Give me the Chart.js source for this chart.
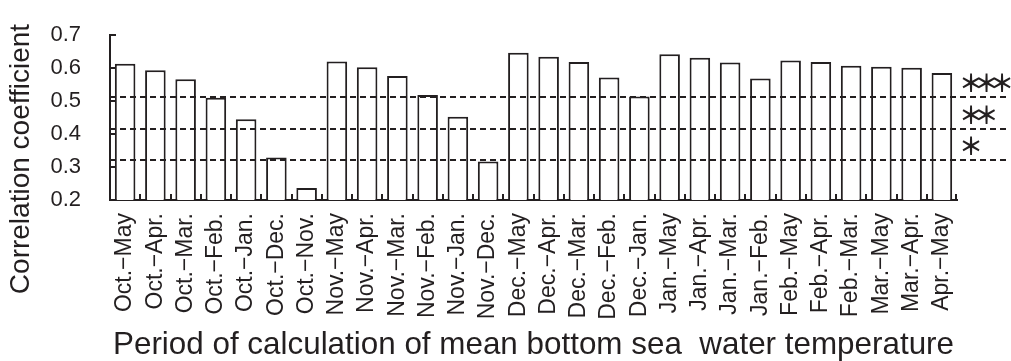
<!DOCTYPE html>
<html>
<head>
<meta charset="utf-8">
<script src="https://cdn.jsdelivr.net/npm/chart.js@4/dist/chart.umd.min.js"></script>
<style>
  html, body { margin: 0; padding: 0; background: #fff; }
</style>
</head>
<body>
<canvas id="chart" width="1011" height="361"></canvas>
<script>
// Averaging periods (x categories)
const periods = [
  'Oct.−May', 'Oct.−Apr.', 'Oct.−Mar.', 'Oct.−Feb.', 'Oct.−Jan.', 'Oct.−Dec.', 'Oct.−Nov.',
  'Nov.−May', 'Nov.−Apr.', 'Nov.−Mar.', 'Nov.−Feb.', 'Nov.−Jan.', 'Nov.−Dec.',
  'Dec.−May', 'Dec.−Apr.', 'Dec.−Mar.', 'Dec.−Feb.', 'Dec.−Jan.',
  'Jan.−May', 'Jan.−Apr.', 'Jan.−Mar.', 'Jan.−Feb.',
  'Feb.−May', 'Feb.−Apr.', 'Feb.−Mar.',
  'Mar.−May', 'Mar.−Apr.',
  'Apr.−May'
];

// Correlation coefficient per period
const correlations = [
  0.613, 0.593, 0.566, 0.510, 0.445, 0.329, 0.236,
  0.620, 0.602, 0.576, 0.518, 0.452, 0.317,
  0.646, 0.634, 0.618, 0.571, 0.514,
  0.642, 0.631, 0.617, 0.568,
  0.623, 0.618, 0.607,
  0.604, 0.601,
  0.585
];

// Significance thresholds and their marks
const thresholds = [0.511, 0.415, 0.320];
const significance = ['＊＊＊', '＊＊', '＊'];

const yTickValues = [0.2, 0.3, 0.4, 0.5, 0.6, 0.7];

const INK = '#231f20';
const FONT = "'Liberation Sans', Arial, sans-serif";

// ticks pointing into the plot, dashed significance lines, stars, y title
const decorations = {
  id: 'decorations',
  afterDatasetsDraw(chart) {
    const { ctx, chartArea, scales: { x, y } } = chart;
    ctx.save();
    ctx.strokeStyle = INK;
    ctx.lineWidth = 2;

    ctx.beginPath();
    yTickValues.forEach(v => {
      const py = Math.round(y.getPixelForValue(v));
      ctx.moveTo(chartArea.left, py);
      ctx.lineTo(chartArea.left + 6, py);
    });
    for (let i = 1; i <= periods.length; i++) {
      const px = i < periods.length
        ? Math.round((x.getPixelForValue(i - 1) + x.getPixelForValue(i)) / 2)
        : chartArea.right - 1;
      ctx.moveTo(px, chartArea.bottom);
      ctx.lineTo(px, chartArea.bottom - 6);
    }
    ctx.stroke();

    ctx.setLineDash([6, 4]);
    ctx.fillStyle = INK;
    ctx.font = "bold 24px 'Noto Sans CJK JP', sans-serif";
    ctx.textBaseline = 'middle';
    ctx.textAlign = 'center';
    thresholds.forEach((t, k) => {
      const py = Math.round(y.getPixelForValue(t));
      ctx.beginPath();
      ctx.moveTo(chartArea.left, py);
      ctx.lineTo(chart.width - 4, py);
      ctx.stroke();
      Array.from(significance[k]).forEach((s, j) => {
        ctx.fillText(s, chartArea.right + 14 + j * 15.5, py - 14);
      });
    });
    ctx.restore();
  },
  afterDraw(chart) {
    const { ctx } = chart;
    ctx.save();
    ctx.fillStyle = INK;
    ctx.font = '28px ' + FONT;
    ctx.textAlign = 'center';
    ctx.textBaseline = 'middle';
    ctx.translate(21, 159);
    ctx.rotate(-Math.PI / 2);
    ctx.fillText('Correlation coefficient', 0, 0);
    ctx.restore();
  }
};

new Chart(document.getElementById('chart'), {
  type: 'bar',
  data: {
    labels: periods,
    datasets: [{
      data: correlations,
      backgroundColor: '#fff',
      borderColor: INK,
      borderWidth: 2,
      categoryPercentage: 1,
      barPercentage: 0.68
    }]
  },
  options: {
    responsive: false,
    animation: false,
    layout: { padding: { left: 0, right: 54, top: 35, bottom: 0 } },
    plugins: { legend: { display: false }, tooltip: { enabled: false } },
    scales: {
      x: {
        grid: { display: false, drawTicks: false },
        border: { display: true, color: INK, width: 2 },
        ticks: {
          autoSkip: false, minRotation: 90, maxRotation: 90, padding: 13,
          color: INK, font: { family: FONT, size: 23 }
        },
        title: {
          display: true,
          text: 'Period of calculation of mean bottom sea  water temperature',
          color: INK,
          font: { family: FONT, size: 31.4, lineHeight: 1 },
          padding: { top: 0, bottom: 0 }
        },
        afterFit(scale) { scale.height = 161; }
      },
      y: {
        min: 0.2,
        max: 0.7,
        grid: { display: false, drawTicks: false },
        border: { display: true, color: INK, width: 2 },
        afterBuildTicks(scale) { scale.ticks = yTickValues.map(v => ({ value: v })); },
        ticks: {
          padding: 29, color: INK, font: { family: FONT, size: 22 },
          callback: v => Number(v).toFixed(1)
        },
        afterFit(scale) {
          scale.width = 110;
          scale.paddingTop = 0;
          scale.paddingBottom = 0;
        }
      }
    }
  },
  plugins: [decorations]
});
</script>
</body>
</html>
